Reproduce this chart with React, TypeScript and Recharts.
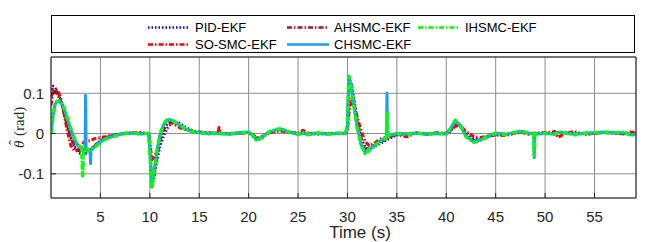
import React from 'react';
import { LineChart, Line, XAxis, YAxis, CartesianGrid } from 'recharts';

// time samples (s)
const TIME = [
  0, 0.2, 0.4, 0.6, 0.8, 1.0, 1.3, 1.6, 2.0, 2.4,
  2.8, 3.1, 3.2, 3.3, 3.45, 3.5, 3.55, 3.95, 4.0, 4.05,
  4.5, 5.0, 5.5, 6.0, 6.5, 7.0, 7.5, 8.0, 8.5, 9.0,
  9.5, 9.9, 10.05, 10.2, 10.4, 10.7, 11.0, 11.4, 11.8, 12.2,
  12.6, 13.0, 13.5, 14.0, 14.5, 15.0, 16.0, 16.9, 17.0, 17.1,
  18.0, 19.0, 20.0, 20.4, 20.8, 21.3, 22.0, 22.7, 23.3, 24.0,
  25.0, 25.5, 26.0, 27.0, 28.0, 29.0, 29.8, 30.0, 30.15, 30.4,
  30.7, 31.0, 31.4, 31.8, 32.2, 32.7, 33.2, 33.8, 33.95, 34.0,
  34.05, 34.5, 35.0, 36.0, 37.0, 38.0, 39.0, 40.0, 40.4, 40.9,
  41.4, 42.0, 42.8, 43.5, 44.3, 45.0, 46.0, 47.0, 47.6, 48.3,
  48.85, 48.9, 48.95, 50.0, 51.0, 51.3, 52.0, 53.0, 54.0, 55.0,
  56.0, 57.0, 58.0, 58.6, 59.2,
];

const PID_EKF = [
  0.1, 0.118, 0.115, 0.106, 0.095, 0.082, 0.056, 0.026, -0.01, -0.035,
  -0.048, -0.052, -0.052, -0.051, -0.05, -0.05, -0.049, -0.042, -0.041, -0.04,
  -0.028, -0.018, -0.01, -0.006, -0.003, -0.001, 0.0, 0.001, 0.0, 0.001,
  0.0, 0.0, -0.05, -0.13, -0.112, -0.072, -0.036, -0.006, 0.014, 0.025,
  0.029, 0.026, 0.018, 0.011, 0.006, 0.003, 0.001, 0.001, 0.0, 0.001,
  0.0, 0.001, 0.002, -0.003, -0.012, -0.012, 0.0, 0.007, 0.009, 0.005,
  0.0, 0.001, -0.001, 0.001, 0.0, 0.001, 0.0, 0.015, 0.136, 0.125,
  0.082, 0.032, -0.01, -0.034, -0.04, -0.034, -0.026, -0.019, -0.017, -0.016,
  -0.015, -0.01, -0.004, -0.001, 0.0, -0.001, 0.0, 0.0, 0.005, 0.02,
  0.019, 0.001, -0.014, -0.015, -0.008, -0.002, -0.002, 0.002, 0.004, 0.001,
  0.0, 0.0, 0.0, 0.001, 0.0, 0.002, 0.001, -0.001, 0.0, 0.001,
  0.002, 0.001, 0.001, -0.001, 0.0,
];

const SO_SMC_EKF = [
  0.07, 0.1, 0.11, 0.108, 0.1, 0.086, 0.052, 0.012, -0.03, -0.044,
  -0.04, -0.03, -0.026, -0.022, -0.02, -0.02, -0.019, -0.018, -0.017, -0.016,
  -0.012, -0.01, -0.008, -0.004, -0.006, -0.002, 0.001, 0.002, 0.002, 0.003,
  0.001, 0.0, -0.03, -0.065, -0.06, -0.045, -0.02, 0.01, 0.025, 0.027,
  0.021, 0.015, 0.01, 0.008, 0.005, 0.004, 0.002, 0.001, 0.015, 0.001,
  0.0, 0.001, 0.002, -0.003, -0.01, -0.008, 0.0, 0.006, 0.006, 0.003,
  0.001, 0.008, 0.002, -0.002, 0.001, -0.001, 0.0, 0.01, 0.05, 0.085,
  0.07, 0.04, 0.005, -0.02, -0.03, -0.025, -0.015, -0.01, -0.008, -0.008,
  -0.007, -0.004, -0.002, -0.008, 0.002, -0.002, 0.002, 0.001, 0.006, 0.018,
  0.02, 0.005, -0.008, -0.01, -0.006, -0.004, -0.005, 0.001, 0.003, -0.002,
  0.001, 0.001, 0.001, 0.002, 0.005, -0.01, 0.001, 0.005, -0.003, 0.001,
  0.003, 0.002, -0.001, 0.004, 0.002,
];

const AHSMC_EKF = [
  0.09, 0.11, 0.108, 0.1, 0.09, 0.078, 0.054, 0.024, -0.008, -0.03,
  -0.042, -0.046, -0.046, -0.045, -0.045, -0.044, -0.044, -0.04, -0.039, -0.038,
  -0.028, -0.019, -0.011, -0.007, -0.004, -0.001, 0.0, 0.001, 0.0, 0.0,
  0.0, 0.0, -0.055, -0.12, -0.105, -0.06, -0.02, 0.012, 0.026, 0.029,
  0.025, 0.02, 0.013, 0.008, 0.005, 0.003, 0.001, 0.001, 0.0, 0.001,
  -0.001, 0.001, 0.003, -0.004, -0.014, -0.01, 0.002, 0.008, 0.01, 0.004,
  0.0, 0.001, -0.002, 0.001, -0.001, 0.001, 0.0, 0.018, 0.13, 0.115,
  0.07, 0.022, -0.02, -0.04, -0.038, -0.03, -0.022, -0.015, -0.013, -0.012,
  -0.01, -0.006, -0.002, -0.001, 0.001, -0.001, 0.0, 0.0, 0.009, 0.026,
  0.02, -0.004, -0.018, -0.014, -0.006, 0.0, -0.002, 0.002, 0.005, 0.001,
  0.0, 0.0, 0.0, 0.001, -0.001, 0.002, 0.002, -0.002, 0.001, 0.001,
  0.002, 0.001, 0.002, -0.002, -0.001,
];

const CHSMC_EKF = [
  0, 0.045, 0.072, 0.08, 0.08, 0.076, 0.064, 0.04, 0.01, -0.016,
  -0.032, -0.036, -0.037, -0.038, -0.039, 0.095, -0.04, -0.042, -0.075, -0.041,
  -0.031, -0.021, -0.013, -0.009, -0.005, -0.002, 0.0, 0.001, 0.0, -0.001,
  0.0, 0.0, -0.065, -0.133, -0.1, -0.048, -0.008, 0.022, 0.034, 0.033,
  0.028, 0.021, 0.013, 0.007, 0.004, 0.002, 0.0, 0.001, -0.001, 0.0,
  -0.001, 0.002, 0.003, -0.004, -0.016, -0.01, 0.003, 0.009, 0.011, 0.004,
  -0.001, 0.001, -0.002, 0.001, -0.001, 0.001, 0.0, 0.02, 0.143, 0.112,
  0.062, 0.014, -0.028, -0.048, -0.04, -0.031, -0.02, -0.012, -0.01, 0.1,
  -0.004, -0.003, 0.0, -0.001, 0.001, -0.001, 0.0, -0.001, 0.011, 0.031,
  0.021, -0.007, -0.021, -0.015, -0.006, 0.001, -0.002, 0.003, 0.005, 0.001,
  0.0, -0.06, -0.002, 0.001, -0.001, 0.003, 0.002, -0.002, 0.001, 0.002,
  0.003, 0.002, 0.002, -0.003, -0.002,
];

const IHSMC_EKF = [
  0, 0.042, 0.07, 0.08, 0.082, 0.078, 0.066, 0.042, 0.012, -0.014,
  -0.03, -0.035, -0.105, -0.037, -0.038, -0.039, -0.04, -0.042, -0.042, -0.041,
  -0.032, -0.022, -0.014, -0.01, -0.006, -0.002, 0.0, 0.001, 0.001, -0.001,
  0.0, 0.0, -0.07, -0.136, -0.1, -0.045, -0.005, 0.025, 0.036, 0.034,
  0.028, 0.021, 0.013, 0.007, 0.004, 0.002, -0.001, 0.002, -0.002, 0.0,
  -0.002, 0.002, 0.004, -0.005, -0.018, -0.011, 0.003, 0.01, 0.012, 0.004,
  -0.002, 0.002, -0.003, 0.002, -0.002, 0.001, 0.0, 0.02, 0.141, 0.11,
  0.06, 0.012, -0.03, -0.05, -0.042, -0.032, -0.021, -0.012, -0.01, 0.055,
  -0.004, -0.003, 0.0, -0.002, 0.001, -0.002, 0.0, -0.001, 0.012, 0.033,
  0.022, -0.008, -0.022, -0.016, -0.006, 0.001, -0.003, 0.003, 0.006, 0.001,
  0.0, -0.055, -0.002, 0.001, -0.002, 0.004, 0.002, -0.003, 0.001, 0.002,
  0.004, 0.002, 0.003, -0.004, -0.003,
];

const X_TICKS = [5, 10, 15, 20, 25, 30, 35, 40, 45, 50, 55];
const Y_TICKS = [-0.1, 0, 0.1];

const SANS = '"Liberation Sans", Arial, Helvetica, sans-serif';
const SERIF = '"Liberation Serif", "Times New Roman", serif';
const AXIS = '#262626';
const DASH_DOT = '5 2 1.5 2';

// plotting order (legend is filled column by column)
const SERIES = [
  { key: 'pid', name: 'PID-EKF', values: PID_EKF, color: '#0000ff', dash: '1.5 2', width: 2.5 },
  { key: 'so', name: 'SO-SMC-EKF', values: SO_SMC_EKF, color: '#ff0000', dash: DASH_DOT, width: 3 },
  { key: 'ah', name: 'AHSMC-EKF', values: AHSMC_EKF, color: '#a2142f', dash: DASH_DOT, width: 3 },
  { key: 'ch', name: 'CHSMC-EKF', values: CHSMC_EKF, color: '#1e9bff', dash: undefined, width: 3 },
  { key: 'ih', name: 'IHSMC-EKF', values: IHSMC_EKF, color: '#00ff00', dash: DASH_DOT, width: 3.5 },
];

const data = TIME.map((t, i) => {
  const row: Record<string, number> = { t };
  SERIES.forEach(s => { row[s.key] = s.values[i]; });
  return row;
});

const LEGEND_COLS = [148, 287, 418];
const LEGEND_ROWS = [27.5, 44.5];

function LegendBox() {
  return (
    <svg width={646} height={60} style={{ position: 'absolute', left: 0, top: 0 }}>
      <rect x={51.5} y={15.5} width={583} height={37} fill="#fff" stroke="#000" strokeWidth={1} />
      {SERIES.map((s, i) => {
        const x = LEGEND_COLS[Math.floor(i / 2)];
        const y = LEGEND_ROWS[i % 2];
        return (
          <g key={s.key}>
            <line x1={x} x2={x + 42} y1={y} y2={y} stroke={s.color} strokeWidth={2.5} strokeDasharray={s.dash} />
            <text x={x + 47} y={y} dy="0.36em" fontSize={13} fontFamily={SANS} fill="#000">{s.name}</text>
          </g>
        );
      })}
    </svg>
  );
}

// theta-hat (rad), drawn bottom-to-top
const YLabel = () => (
  <g transform="translate(24,127) rotate(-90)" fontFamily={SERIF} fontSize={15} fill={AXIS}>
    <text x={-21} y={0} fontStyle="italic">{'\u03B8'}</text>
    <text x={-15.5} y={-5} textAnchor="middle">{'\u02C6'}</text>
    <text x={-9} y={0}>(rad)</text>
  </g>
);

export default function App() {
  return (
    <div style={{ position: 'absolute', left: 0, top: 0, width: 646, height: 242, background: '#fff' }}>
      <LineChart width={646} height={242} data={data} margin={{ top: 56, right: 9, bottom: 14, left: 6 }}>
        <CartesianGrid stroke="#8c8c8c" strokeWidth={1} />
        <XAxis
          dataKey="t"
          type="number"
          domain={[0, 59.2]}
          ticks={X_TICKS}
          allowDataOverflow
          height={30}
          stroke={AXIS}
          tickSize={-5}
          tickMargin={18}
          tick={{ fontSize: 15, fill: AXIS, fontFamily: SANS }}
          label={{
            content: () => (
              <text x={360} y={238} textAnchor="middle" fontSize={17} fontFamily={SANS} fill={AXIS}>Time (s)</text>
            ),
          }}
        />
        <XAxis
          xAxisId="top"
          orientation="top"
          type="number"
          domain={[0, 59.2]}
          ticks={X_TICKS}
          allowDataOverflow
          height={1}
          stroke={AXIS}
          tickSize={-5}
          tick={false}
        />
        <YAxis
          type="number"
          domain={[-0.16, 0.19]}
          ticks={Y_TICKS}
          allowDataOverflow
          width={45}
          stroke={AXIS}
          tickSize={-5}
          tickMargin={12}
          tick={{ fontSize: 15, fill: AXIS, fontFamily: SANS }}
          label={{ content: () => <YLabel /> }}
        />
        <YAxis
          yAxisId="right"
          orientation="right"
          type="number"
          domain={[-0.16, 0.19]}
          ticks={Y_TICKS}
          allowDataOverflow
          width={1}
          stroke={AXIS}
          tickSize={-5}
          tick={false}
        />
        {SERIES.map(s => (
          <Line
            key={s.key}
            dataKey={s.key}
            name={s.name}
            type="linear"
            stroke={s.color}
            strokeWidth={s.width}
            strokeDasharray={s.dash}
            strokeLinejoin="round"
            dot={false}
            activeDot={false}
            isAnimationActive={false}
          />
        ))}
      </LineChart>
      <LegendBox />
    </div>
  );
}
